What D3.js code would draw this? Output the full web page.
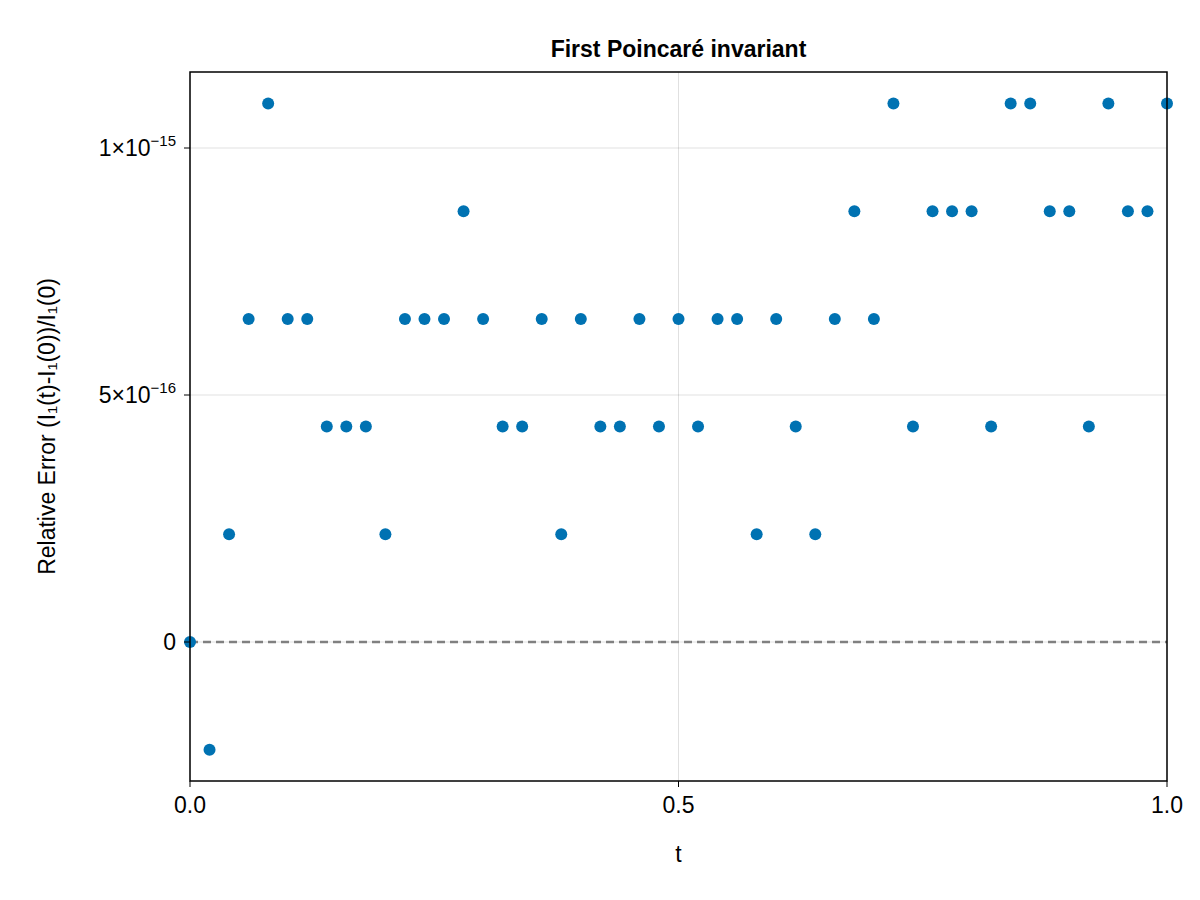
<!DOCTYPE html>
<html><head><meta charset="utf-8">
<script src="https://cdn.jsdelivr.net/npm/d3@7"></script>
<style>body{margin:0;background:#fff}text{font-family:"Liberation Sans","DejaVu Sans",sans-serif}</style>
</head><body><svg id="c" width="1200" height="900"></svg>
<script>
const unit = 2.18e-16;
const tValues = d3.range(51).map(i => i / 50);
const errUnits = [0,-1,1,3,5,3,3,2,2,2,1,3,3,3,4,3,2,2,3,1,3,2,2,3,2,3,2,3,3,1,3,2,1,3,4,3,5,2,4,4,4,2,5,5,4,4,2,5,4,4,5];
const errValues = errUnits.map(u => u * unit);
const xTicks = [0, 0.5, 1];
const xTickLabels = ["0.0", "0.5", "1.0"];
const yTicks = [0, 5e-16, 1e-15];
const yTickLabels = [["0",""], ["5×10","−16"], ["1×10","−15"]];

const svg = d3.select("#c");
const L=190,R=1167,T=72,B=781;
const x = d3.scaleLinear().domain([0,1]).range([L,R]);
const y = d3.scaleLinear().domain([0,1e-15]).range([642,148]);

svg.selectAll(".gx").data(xTicks).join("line").attr("x1",d=>x(d)).attr("x2",d=>x(d)).attr("y1",T).attr("y2",B).attr("stroke","#000").attr("stroke-opacity",0.12).attr("stroke-width",1);
svg.selectAll(".gy").data(yTicks).join("line").attr("y1",d=>y(d)).attr("y2",d=>y(d)).attr("x1",L).attr("x2",R).attr("stroke","#000").attr("stroke-opacity",0.12).attr("stroke-width",1);

svg.append("line").attr("x1",L).attr("x2",R).attr("y1",y(0)).attr("y2",y(0)).attr("stroke","#808080").attr("stroke-width",2.5).attr("stroke-dasharray","8,5");

svg.selectAll(".p").data(tValues).join("circle").attr("cx",d=>x(d)).attr("cy",(d,i)=>y(errValues[i])).attr("r",6).attr("fill","#0072b2");

svg.append("rect").attr("x",L).attr("y",T).attr("width",R-L).attr("height",B-T).attr("fill","none").attr("stroke","#000").attr("stroke-width",1.5);

svg.selectAll(".xt").data(xTicks).join("line").attr("x1",d=>x(d)).attr("x2",d=>x(d)).attr("y1",B).attr("y2",B+6).attr("stroke","#000");
svg.selectAll(".xl").data(xTicks).join("text").attr("x",d=>x(d)).attr("y",B+32).attr("text-anchor","middle").attr("font-size",23).text((d,i)=>xTickLabels[i]);

svg.selectAll(".yt").data(yTicks).join("line").attr("x1",L-6).attr("x2",L).attr("y1",d=>y(d)).attr("y2",d=>y(d)).attr("stroke","#000");
yTicks.forEach((v,i)=>{
  const t = svg.append("text").attr("x",L-14).attr("y",y(v)+8).attr("text-anchor","end").attr("font-size",23);
  t.append("tspan").text(yTickLabels[i][0]);
  if (yTickLabels[i][1]) t.append("tspan").attr("dy",-10).attr("font-size",15).text(yTickLabels[i][1]);
});

svg.append("text").attr("x",(L+R)/2).attr("y",57).attr("text-anchor","middle").attr("font-size",23).attr("font-weight","bold").text("First Poincaré invariant");
svg.append("text").attr("x",(L+R)/2).attr("y",862).attr("text-anchor","middle").attr("font-size",23).text("t");
svg.append("text").attr("transform",`translate(55,${(T+B)/2}) rotate(-90)`).attr("text-anchor","middle").attr("font-size",23).text("Relative Error (I₁(t)-I₁(0))/I₁(0)");
</script></body></html>
